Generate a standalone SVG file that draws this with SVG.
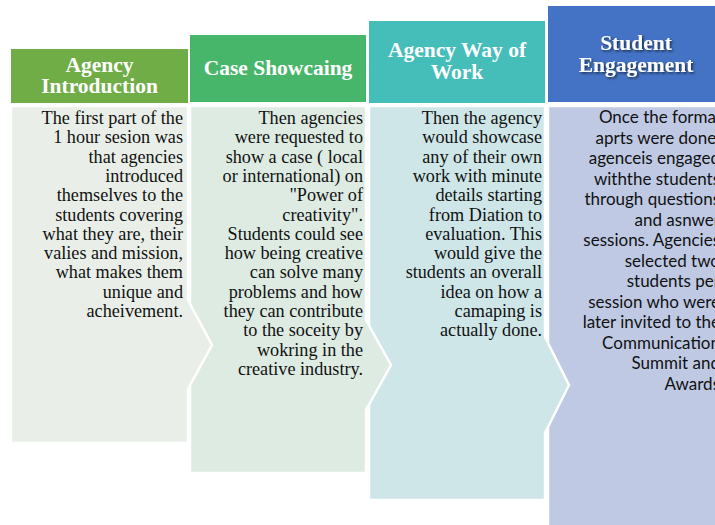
<svg xmlns="http://www.w3.org/2000/svg" width="715" height="525" viewBox="0 0 715 525">
<defs>
<style>
.hd{font-family:"Liberation Serif","Times New Roman",serif;font-weight:bold;font-size:21.5px;fill:#fff;text-anchor:middle}
.bt{font-family:"Liberation Serif","Times New Roman",serif;font-size:18.2px;fill:#111;text-anchor:end}
.bs{font-family:Lato,"Liberation Sans",sans-serif;font-size:17px;fill:#111;text-anchor:end}
.body{stroke:#fff;stroke-width:2.5;stroke-linejoin:miter}
</style>
<filter id="sh" x="-10%" y="-30%" width="130%" height="160%">
<feDropShadow dx="1.5" dy="1.5" stdDeviation="0.8" flood-color="#000" flood-opacity="0.6"/>
</filter>
</defs>
<rect width="715" height="525" fill="#fff"/>

<g id="node4">
<rect x="548" y="6" width="176" height="96" fill="#4472C4"/>
<polygon class="body" points="548,106 724,106 724,530 548,530" fill="#BFC9E4"/>
<g filter="url(#sh)">
<text class="hd" x="636" y="50">Student</text>
<text class="hd" x="636" y="72">Engagement</text>
</g>
<text class="bs" x="720" y="123">Once the formal</text>
<text class="bs" x="720" y="143.5">aprts were done,</text>
<text class="bs" x="720" y="164">agenceis engaged</text>
<text class="bs" x="720" y="184.5">withthe students</text>
<text class="bs" x="720" y="205">through questions</text>
<text class="bs" x="720" y="225.5">and asnwer</text>
<text class="bs" x="720" y="246">sessions. Agencies</text>
<text class="bs" x="720" y="266.5">selected two</text>
<text class="bs" x="720" y="287">students per</text>
<text class="bs" x="720" y="307.5">session who were</text>
<text class="bs" x="720" y="328">later invited to the</text>
<text class="bs" x="720" y="348.5">Communication</text>
<text class="bs" x="720" y="369">Summit and</text>
<text class="bs" x="720" y="389.5">Awards</text>
</g>

<g id="node3">
<rect x="369" y="21" width="176" height="82" fill="#45BDB8"/>
<polygon class="body" points="369,106 545,106 545,337 569,385 545,433 545,500 369,500" fill="#CEE6E7"/>
<text class="hd" x="457" y="57">Agency Way of</text>
<text class="hd" x="457" y="79">Work</text>
<text class="bt" x="542" y="124">Then the agency</text>
<text class="bt" x="542" y="143.3">would showcase</text>
<text class="bt" x="542" y="162.6">any of their own</text>
<text class="bt" x="542" y="181.9">work with minute</text>
<text class="bt" x="542" y="201.2">details starting</text>
<text class="bt" x="542" y="220.5">from Diation to</text>
<text class="bt" x="542" y="239.8">evaluation. This</text>
<text class="bt" x="542" y="259.1">would give the</text>
<text class="bt" x="542" y="278.4">students an overall</text>
<text class="bt" x="542" y="297.7">idea on how a</text>
<text class="bt" x="542" y="317">camaping is</text>
<text class="bt" x="542" y="336.3">actually done.</text>
</g>

<g id="node2">
<rect x="190" y="35" width="176" height="67" fill="#48B66A"/>
<polygon class="body" points="190,106 366,106 366,320 391,365 366,410 366,473 190,473" fill="#DDEBE2"/>
<text class="hd" x="278" y="75">Case Showcaing</text>
<text class="bt" x="363" y="124">Then agencies</text>
<text class="bt" x="363" y="143.3">were requested to</text>
<text class="bt" x="363" y="162.6">show a case ( local</text>
<text class="bt" x="363" y="181.9">or international) on</text>
<text class="bt" x="363" y="201.2">"Power of</text>
<text class="bt" x="363" y="220.5">creativity".</text>
<text class="bt" x="363" y="239.8">Students could see</text>
<text class="bt" x="363" y="259.1">how being creative</text>
<text class="bt" x="363" y="278.4">can solve many</text>
<text class="bt" x="363" y="297.7">problems and how</text>
<text class="bt" x="363" y="317">they can contribute</text>
<text class="bt" x="363" y="336.3">to the soceity by</text>
<text class="bt" x="363" y="355.6">wokring in the</text>
<text class="bt" x="363" y="374.9">creative industry.</text>
</g>

<g id="node1">
<rect x="11" y="49" width="177" height="54" fill="#70AD47"/>
<polygon class="body" points="11,106 188,106 188,300 212,345 188,389 188,443 11,443" fill="#E9EFE8"/>
<text class="hd" x="99.5" y="72">Agency</text>
<text class="hd" x="99.5" y="93">Introduction</text>
<text class="bt" x="183" y="124">The first part of the</text>
<text class="bt" x="183" y="143.3">1 hour sesion was</text>
<text class="bt" x="183" y="162.6">that agencies</text>
<text class="bt" x="183" y="181.9">introduced</text>
<text class="bt" x="183" y="201.2">themselves to the</text>
<text class="bt" x="183" y="220.5">students covering</text>
<text class="bt" x="183" y="239.8">what they are, their</text>
<text class="bt" x="183" y="259.1">valies and mission,</text>
<text class="bt" x="183" y="278.4">what makes them</text>
<text class="bt" x="183" y="297.7">unique and</text>
<text class="bt" x="183" y="317">acheivement.</text>
</g>

<g id="connectors"></g>
</svg>
